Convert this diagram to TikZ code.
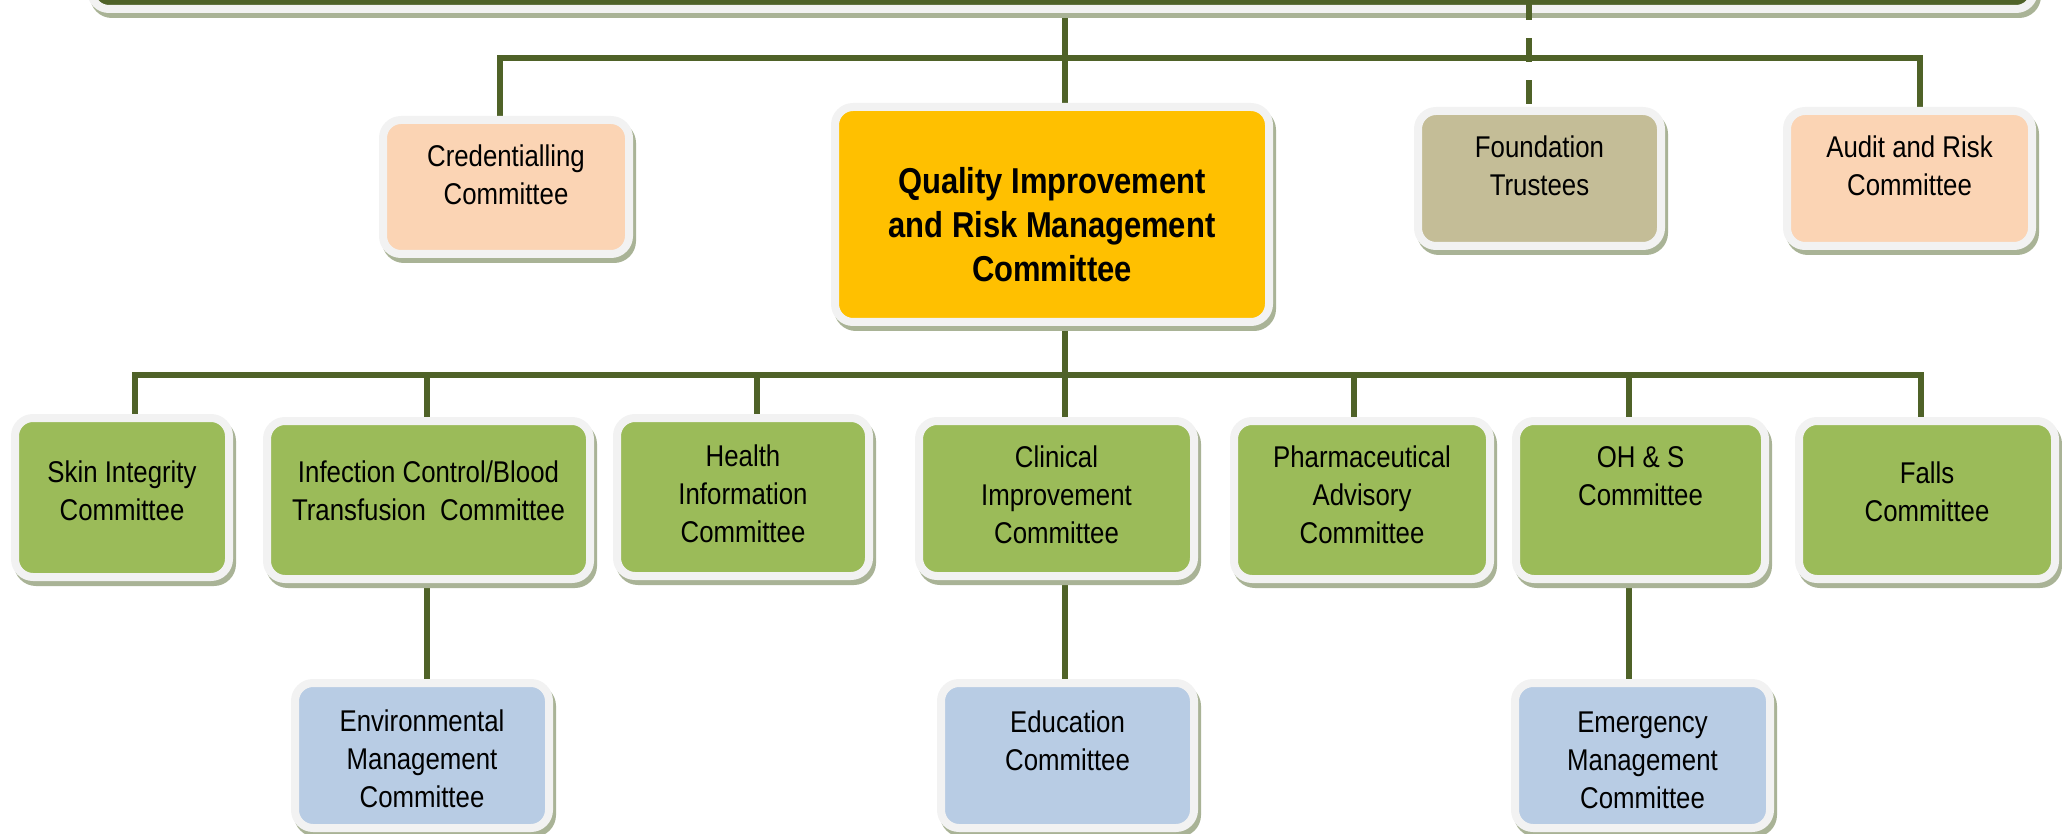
\documentclass[tikz,border=0pt]{standalone}
\usepackage{fontspec}
\setmainfont{Liberation Sans}[FakeStretch=0.86]
\usetikzlibrary{calc}
\definecolor{cOlive}{HTML}{4F6228}
\definecolor{cFrame}{HTML}{F2F2F2}
\definecolor{cShad}{HTML}{A9B396}
\definecolor{cPeach}{HTML}{FBD4B4}
\definecolor{cGold}{HTML}{FFC000}
\definecolor{cTan}{HTML}{C4BD97}
\definecolor{cGreen}{HTML}{9BBB59}
\definecolor{cBlue}{HTML}{B8CCE4}
\pgfdeclarelayer{bg}
\pgfsetlayers{bg,main}
\tikzset{
  conn/.style={draw=cOlive, line width=6pt},
  obx/.style={draw=cFrame, line width=8pt, rounded corners=18pt, inner sep=0pt,
    preaction={draw=cShad, fill=cShad, line width=8pt, transform canvas={shift={(3pt,-5pt)}}}},
  txtn/.style={inner sep=0pt, font=\fontsize{30}{38}\selectfont},
  txtq/.style={inner sep=0pt, font=\bfseries\fontsize{36}{44}\selectfont},
}
% name, x1, y1, x2, y2, fill, first baseline, text, text style
\newcommand\obox[9]{%
  \node[obx, fill=#6, minimum width={#4-#2-8}, minimum height={#5-#3-8}] (#1) at ({(#2+#4)/2},{(#3+#5)/2}) {};
  \node[#9, anchor=base] (#1t) at ({(#2+#4)/2},#7) {\begin{tabular}[t]{@{}c@{}}#8\end{tabular}};
}
\begin{document}
\begin{tikzpicture}[x=1pt,y=-1pt]
\useasboundingbox (0,0) rectangle (2062,834);
\clip (0,0) rectangle (2062,834);
% junction coordinates
\coordinate (j0) at (1065,58);
\coordinate (bL) at (500,58);
\coordinate (bR) at (1920,58);
\coordinate (dsh) at (1529,0);
\coordinate (m1) at (135,375);
\coordinate (m2) at (427,375);
\coordinate (m3) at (757,375);
\coordinate (m4) at (1065,375);
\coordinate (m5) at (1354,375);
\coordinate (m6) at (1629,375);
\coordinate (m7) at (1921,375);
\obox{board}{87}{-300}{2038}{13}{cOlive}{-400}{}{txtn}
\obox{qi}{831}{103}{1273}{326}{cGold}{194}{Quality Improvement\\and Risk Management\\Committee}{txtq}
\obox{cred}{379}{116}{633}{258}{cPeach}{167}{Credentialling\\Committee}{txtn}
\obox{found}{1414}{107}{1665}{250}{cTan}{158}{Foundation\\Trustees}{txtn}
\obox{aud}{1783}{107}{2036}{250}{cPeach}{158}{Audit and Risk\\Committee}{txtn}
\obox{skin}{11}{414}{233}{581}{cGreen}{482}{Skin Integrity\\Committee}{txtn}
\obox{inf}{263}{417}{594}{583}{cGreen}{482}{Infection Control/Blood\\Transfusion~~Committee}{txtn}
\obox{hlth}{613}{414}{873}{580}{cGreen}{466}{Health\\Information\\Committee}{txtn}
\obox{clin}{915}{417}{1198}{580}{cGreen}{467}{Clinical\\Improvement\\Committee}{txtn}
\obox{phar}{1230}{417}{1494}{583}{cGreen}{467}{Pharmaceutical\\Advisory\\Committee}{txtn}
\obox{ohs}{1512}{417}{1769}{583}{cGreen}{467}{OH \& S\\Committee}{txtn}
\obox{fall}{1795}{417}{2059}{583}{cGreen}{483}{Falls\\Committee}{txtn}
\obox{env}{291}{679}{553}{832}{cBlue}{731}{Environmental\\Management\\Committee}{txtn}
\obox{edu}{937}{679}{1198}{832}{cBlue}{732}{Education\\Committee}{txtn}
\obox{emer}{1511}{679}{1774}{832}{cBlue}{732}{Emergency\\Management\\Committee}{txtn}
\begin{pgfonlayer}{bg}
  \draw[conn] (board.south -| j0) -- (qi.north -| j0);
  \draw[conn] (cred.north -| bL) -- (bL) -- (bR) -- (aud.north -| bR);
  \draw[conn] (qi.south -| m4) -- (clin.north -| m4);
  \draw[conn] (skin.north -| m1) -- (m1) -- (m7) -- (fall.north -| m7);
  \draw[conn] (m2) -- (inf.north -| m2);
  \draw[conn] (m3) -- (hlth.north -| m3);
  \draw[conn] (m5) -- (phar.north -| m5);
  \draw[conn] (m6) -- (ohs.north -| m6);
  \draw[conn] (inf.south -| m2) -- (env.north -| m2);
  \draw[conn] (clin.south -| m4) -- (edu.north -| m4);
  \draw[conn] (ohs.south -| m6) -- (emer.north -| m6);
\end{pgfonlayer}
\draw[conn, dash pattern=on 24pt off 18pt] ([yshift=3pt]found.north -| dsh) -- (dsh);
\end{tikzpicture}
\end{document}
